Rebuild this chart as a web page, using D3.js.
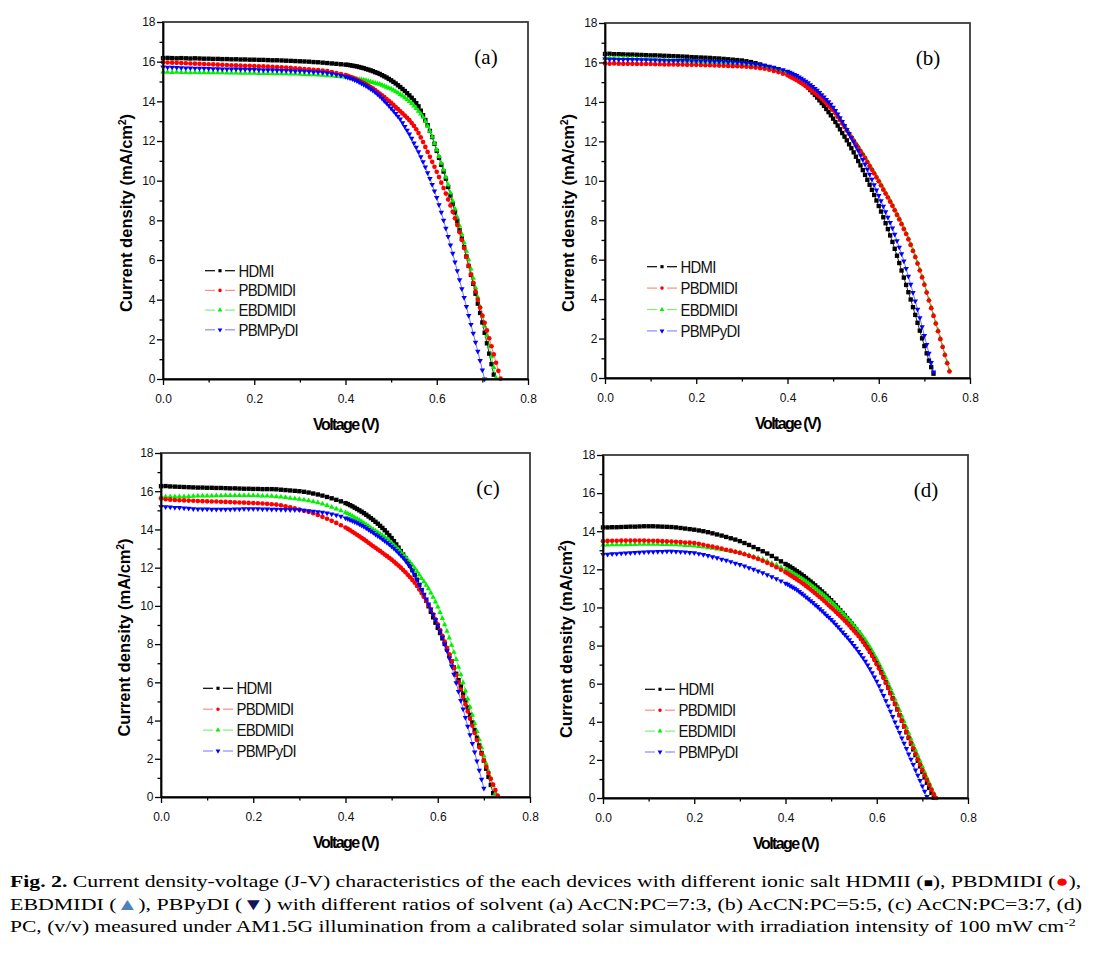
<!DOCTYPE html>
<html><head><meta charset="utf-8">
<script src="https://cdn.jsdelivr.net/npm/d3@7"></script>
<style>
body{margin:0;background:#fff;}
svg{display:block;}
</style></head><body>
<svg id="chart" width="1096" height="953"></svg>
<script>
// ---------- DATA ----------
const voltage = [0,0.01,0.02,0.03,0.04,0.05,0.06,0.07,0.08,0.09,0.1,0.11,0.12,0.13,0.14,0.15,0.16,0.17,0.18,0.19,0.2,0.21,0.22,0.23,0.24,0.25,0.26,0.27,0.28,0.29,0.3,0.31,0.32,0.33,0.34,0.35,0.36,0.37,0.38,0.39,0.4,
0.405,0.41,0.415,0.42,0.425,0.43,0.435,0.44,0.445,0.45,0.455,0.46,0.465,0.47,0.475,0.48,0.485,0.49,0.495,0.5,0.505,0.51,0.515,0.52,0.525,0.53,0.535,0.54,0.545,0.55,0.555,0.56,0.565,0.57,0.575,0.58,0.585,0.59,0.595,0.6,0.605,0.61,0.615,0.62,0.625,0.63,0.635,0.64,0.645,0.65,0.655,0.66,0.665,0.67,0.675,0.68,0.685,0.69,0.695,0.7,0.705,0.71,0.715,0.72,0.725,0.73,0.735,0.74,0.745,0.75,0.755,0.76];

const seriesNames = ["HDMI","PBDMIDI","EBDMIDI","PBMPyDI"];
const panelLabels = ["(a)","(b)","(c)","(d)"];
const xTickValues = [0,0.2,0.4,0.6,0.8];
const xMinorTicks = [0.1,0.3,0.5,0.7];
const yTickValues = [0,2,4,6,8,10,12,14,16,18];
const yMinorTicks = [1,3,5,7,9,11,13,15,17];
const xAxisTitle = "Voltage (V)";
const yAxisTitle = "Current density (mA/cm";

// (a) AcCN:PC = 7:3
const hdmiA = [16.18,16.19,16.18,16.17,16.18,16.17,16.16,16.17,16.16,16.15,
16.15,16.14,16.14,16.13,16.13,16.12,16.12,16.11,16.11,16.10,
16.10,16.09,16.09,16.08,16.07,16.07,16.06,16.05,16.04,16.03,
16.02,16.01,16.00,15.98,15.97,15.95,15.93,15.91,15.89,15.87,
15.85,
15.84,15.82,15.80,15.78,15.76,15.73,15.70,15.67,15.63,15.60,
15.56,15.52,15.47,15.43,15.38,15.32,15.26,15.20,15.13,15.06,
14.98,14.90,14.81,14.72,14.62,14.52,14.41,14.30,14.18,14.05,
13.91,13.75,13.53,13.30,13.06,12.80,12.51,12.20,11.86,11.50,
11.15,10.80,10.46,10.10,9.68,9.25,8.83,8.40,7.95,7.50,
7.08,6.65,6.18,5.70,5.25,4.80,4.30,3.80,3.33,2.85,
2.33,1.80,1.28,0.75,0.22];
const pbdmidiA = [15.97,15.96,15.95,15.94,15.93,15.92,15.91,15.90,15.89,15.88,
15.87,15.86,15.85,15.84,15.83,15.82,15.81,15.80,15.79,15.79,
15.78,15.77,15.76,15.75,15.74,15.73,15.72,15.70,15.69,15.67,
15.65,15.63,15.61,15.59,15.57,15.55,15.52,15.48,15.43,15.38,
15.32,
15.28,15.24,15.20,15.15,15.10,15.04,14.98,14.92,14.86,14.79,
14.72,14.65,14.57,14.48,14.39,14.30,14.21,14.11,14.02,13.92,
13.82,13.71,13.61,13.50,13.39,13.28,13.17,13.05,12.91,12.76,
12.59,12.40,12.18,11.95,11.70,11.45,11.20,10.95,10.70,10.45,
10.18,9.90,9.63,9.35,9.05,8.75,8.43,8.10,7.76,7.40,
7.01,6.60,6.15,5.70,5.27,4.85,4.42,4.00,3.60,3.20,
2.83,2.45,2.05,1.65,1.24,0.82,0.41,0.02];
const ebdmidiA = [15.48,15.47,15.46,15.47,15.46,15.46,15.45,15.46,15.45,15.45,
15.45,15.44,15.44,15.44,15.43,15.43,15.43,15.42,15.42,15.42,
15.42,15.41,15.41,15.41,15.40,15.40,15.39,15.39,15.38,15.38,
15.37,15.36,15.35,15.34,15.33,15.32,15.30,15.28,15.26,15.24,
15.22,
15.20,15.19,15.17,15.15,15.13,15.11,15.10,15.08,15.05,15.02,
14.98,14.95,14.92,14.89,14.86,14.82,14.77,14.72,14.67,14.62,
14.56,14.49,14.42,14.35,14.27,14.19,14.10,14.00,13.89,13.77,
13.64,13.50,13.36,13.20,12.99,12.75,12.49,12.20,11.88,11.55,
11.22,10.88,10.54,10.18,9.78,9.38,8.98,8.58,8.15,7.72,
7.30,6.88,6.45,6.02,5.55,5.08,4.60,4.12,3.65,3.17,
2.67,2.17,1.65,1.12,0.58,0.05];
const pbmpydiA = [15.73,15.72,15.71,15.70,15.69,15.68,15.68,15.67,15.66,15.66,
15.65,15.64,15.64,15.63,15.63,15.62,15.62,15.61,15.61,15.60,
15.60,15.59,15.58,15.58,15.57,15.56,15.55,15.55,15.54,15.53,
15.52,15.51,15.50,15.48,15.47,15.45,15.42,15.39,15.35,15.30,
15.25,
15.21,15.17,15.13,15.08,15.03,14.97,14.91,14.85,14.78,14.71,
14.63,14.55,14.46,14.36,14.26,14.15,14.03,13.91,13.78,13.65,
13.52,13.38,13.24,13.10,12.92,12.73,12.54,12.35,12.13,11.90,
11.68,11.45,11.20,10.95,10.68,10.40,10.10,9.80,9.48,9.15,
8.78,8.40,8.00,7.60,7.18,6.75,6.33,5.90,5.45,5.00,
4.55,4.10,3.65,3.20,2.75,2.30,1.85,1.40,0.93,0.45,
0.00];

// (b) AcCN:PC = 5:5
const hdmiB = [16.43,16.44,16.42,16.42,16.41,16.40,16.40,16.39,16.38,16.37,
16.36,16.36,16.35,16.34,16.33,16.32,16.31,16.30,16.29,16.27,
16.26,16.25,16.24,16.23,16.21,16.20,16.18,16.16,16.14,16.12,
16.10,16.06,16.02,15.96,15.90,15.83,15.76,15.69,15.62,15.55,
15.48,
15.42,15.36,15.29,15.22,15.14,15.05,14.95,14.85,14.73,14.60,
14.48,14.35,14.22,14.08,13.94,13.80,13.64,13.48,13.32,13.15,
12.98,12.80,12.61,12.42,12.24,12.05,11.85,11.65,11.44,11.22,
11.00,10.78,10.54,10.30,10.05,9.80,9.54,9.28,9.00,8.72,
8.44,8.15,7.85,7.55,7.23,6.90,6.55,6.20,5.83,5.45,
5.09,4.72,4.35,3.98,3.59,3.20,2.80,2.40,2.01,1.62,
1.25,0.88,0.55,0.22];
const pbdmidiB = [15.95,15.94,15.95,15.94,15.93,15.93,15.93,15.92,15.92,15.92,
15.92,15.91,15.91,15.90,15.90,15.90,15.89,15.89,15.88,15.88,
15.88,15.87,15.86,15.86,15.85,15.84,15.83,15.82,15.81,15.81,
15.80,15.78,15.76,15.74,15.71,15.68,15.63,15.57,15.51,15.43,
15.35,
15.29,15.23,15.17,15.10,15.03,14.96,14.88,14.80,14.72,14.63,
14.54,14.45,14.35,14.26,14.16,14.05,13.94,13.82,13.70,13.58,
13.42,13.25,13.08,12.90,12.73,12.55,12.38,12.20,12.03,11.85,
11.68,11.50,11.33,11.15,10.95,10.75,10.56,10.37,10.17,9.97,
9.76,9.55,9.35,9.15,8.94,8.73,8.50,8.27,8.04,7.80,
7.55,7.30,7.03,6.75,6.44,6.13,5.80,5.45,5.10,4.73,
4.33,3.93,3.54,3.15,2.76,2.37,1.97,1.57,1.16,0.75,
0.33];
const ebdmidiB = [16.22,16.23,16.22,16.21,16.21,16.20,16.19,16.18,16.17,16.16,
16.15,16.14,16.13,16.12,16.11,16.10,16.09,16.08,16.07,16.06,
16.05,16.04,16.03,16.02,16.01,16.00,15.99,15.97,15.96,15.94,
15.92,15.90,15.87,15.84,15.81,15.78,15.74,15.69,15.63,15.56,
15.48,
15.42,15.36,15.30,15.23,15.16,15.08,15.00,14.92,14.84,14.76,
14.67,14.58,14.48,14.38,14.27,14.16,14.04,13.91,13.77,13.63,
13.47,13.30,13.13,12.95,12.78,12.60,12.43,12.25,12.08,11.90,
11.73,11.55,11.38,11.20,11.00,10.80,10.61,10.42,10.22,10.02,
9.81,9.60,9.40,9.20,8.99,8.78,8.55,8.32,8.09,7.85,
7.60,7.35,7.08,6.80,6.49,6.18,5.85,5.50,5.15,4.78,
4.38,3.98,3.59,3.20,2.81,2.42,2.02,1.62,1.21,0.80,
0.38];
const pbmpydiB = [16.17,16.16,16.16,16.15,16.15,16.15,16.14,16.14,16.13,16.13,
16.12,16.12,16.11,16.11,16.10,16.10,16.10,16.09,16.09,16.08,
16.08,16.07,16.07,16.06,16.05,16.04,16.03,16.02,16.01,16.00,
15.98,15.96,15.94,15.91,15.88,15.84,15.80,15.75,15.69,15.62,
15.55,
15.50,15.45,15.39,15.33,15.26,15.19,15.12,15.04,14.96,14.87,
14.78,14.68,14.58,14.47,14.36,14.24,14.12,14.00,13.87,13.73,
13.56,13.38,13.19,13.00,12.80,12.60,12.39,12.18,11.97,11.75,
11.53,11.30,11.07,10.83,10.58,10.33,10.07,9.80,9.53,9.25,
8.98,8.70,8.43,8.15,7.88,7.60,7.28,6.95,6.63,6.30,
5.93,5.55,5.15,4.75,4.33,3.90,3.48,3.05,2.60,2.15,
1.70,1.25,0.78,0.30];

// (c) AcCN:PC = 3:7
const hdmiC = [16.26,16.27,16.25,16.24,16.23,16.22,16.21,16.20,16.19,16.19,
16.18,16.18,16.17,16.17,16.16,16.15,16.15,16.14,16.13,16.13,
16.12,16.12,16.11,16.11,16.11,16.10,16.08,16.06,16.04,16.02,
16.00,15.97,15.93,15.88,15.83,15.77,15.70,15.63,15.55,15.47,
15.38,
15.33,15.27,15.21,15.14,15.07,15.00,14.93,14.85,14.77,14.68,
14.59,14.50,14.40,14.30,14.19,14.08,13.96,13.83,13.69,13.55,
13.39,13.22,13.05,12.87,12.69,12.50,12.30,12.10,11.87,11.62,
11.37,11.10,10.83,10.55,10.27,9.98,9.69,9.40,9.12,8.85,
8.58,8.30,8.01,7.72,7.41,7.10,6.78,6.45,6.12,5.78,
5.42,5.05,4.68,4.30,3.90,3.50,3.10,2.70,2.30,1.90,
1.48,1.05,0.63,0.20];
const pbdmidiC = [15.62,15.58,15.56,15.54,15.53,15.52,15.51,15.50,15.49,15.48,
15.47,15.46,15.46,15.45,15.44,15.43,15.42,15.41,15.40,15.39,
15.38,15.37,15.36,15.34,15.32,15.30,15.26,15.21,15.16,15.10,
15.04,14.98,14.92,14.85,14.76,14.66,14.56,14.45,14.34,14.22,
14.10,
14.03,13.96,13.88,13.80,13.72,13.64,13.56,13.48,13.39,13.30,
13.21,13.12,13.04,12.95,12.87,12.78,12.69,12.60,12.51,12.42,
12.32,12.21,12.11,12.00,11.88,11.76,11.63,11.50,11.36,11.21,
11.04,10.86,10.67,10.47,10.26,10.04,9.81,9.56,9.30,9.03,
8.74,8.44,8.13,7.80,7.46,7.11,6.75,6.38,6.00,5.62,
5.23,4.85,4.48,4.10,3.73,3.35,2.98,2.60,2.25,1.90,
1.58,1.25,0.95,0.65,0.36,0.08];
const ebdmidiC = [15.72,15.71,15.71,15.71,15.72,15.72,15.73,15.74,15.75,15.75,
15.76,15.76,15.77,15.77,15.78,15.78,15.78,15.78,15.78,15.78,
15.78,15.77,15.76,15.75,15.74,15.72,15.70,15.67,15.64,15.61,
15.58,15.54,15.50,15.45,15.40,15.33,15.26,15.17,15.08,14.98,
14.88,
14.82,14.76,14.69,14.62,14.55,14.48,14.41,14.33,14.25,14.17,
14.08,14.00,13.92,13.84,13.76,13.68,13.59,13.50,13.40,13.30,
13.18,13.06,12.94,12.82,12.69,12.56,12.42,12.28,12.13,11.98,
11.80,11.62,11.44,11.27,11.09,10.90,10.68,10.45,10.21,9.95,
9.66,9.35,9.02,8.68,8.32,7.95,7.58,7.20,6.80,6.40,
5.98,5.55,5.13,4.70,4.28,3.85,3.43,3.00,2.58,2.15,
1.75,1.35,0.98,0.60,0.20];
const pbmpydiC = [15.20,15.18,15.17,15.15,15.14,15.12,15.10,15.08,15.07,15.06,
15.06,15.05,15.05,15.05,15.05,15.05,15.06,15.07,15.08,15.08,
15.08,15.08,15.07,15.06,15.05,15.05,15.04,15.04,15.03,15.03,
15.02,15.00,14.97,14.95,14.92,14.89,14.85,14.80,14.75,14.68,
14.60,
14.55,14.50,14.45,14.40,14.34,14.28,14.22,14.15,14.07,13.99,
13.91,13.83,13.75,13.67,13.59,13.50,13.41,13.31,13.22,13.12,
13.01,12.89,12.77,12.65,12.51,12.37,12.21,12.05,11.84,11.62,
11.36,11.10,10.85,10.60,10.35,10.10,9.83,9.55,9.27,8.98,
8.67,8.35,8.00,7.65,7.26,6.85,6.42,5.98,5.52,5.05,
4.60,4.15,3.70,3.25,2.80,2.35,1.88,1.40,0.93,0.45];

// (d) PC
const hdmiD = [14.20,14.20,14.21,14.21,14.22,14.23,14.24,14.24,14.25,14.26,
14.26,14.26,14.25,14.24,14.23,14.22,14.20,14.17,14.14,14.11,
14.08,14.04,14.00,13.95,13.89,13.83,13.77,13.70,13.63,13.56,
13.48,13.38,13.28,13.17,13.06,12.95,12.83,12.70,12.56,12.42,
12.28,
12.21,12.14,12.06,11.98,11.90,11.82,11.73,11.64,11.55,11.45,
11.36,11.26,11.16,11.05,10.95,10.84,10.73,10.61,10.50,10.38,
10.25,10.12,9.99,9.85,9.71,9.58,9.44,9.30,9.15,9.00,
8.84,8.68,8.51,8.33,8.15,7.96,7.76,7.55,7.33,7.10,
6.86,6.61,6.35,6.08,5.80,5.52,5.23,4.94,4.65,4.35,
4.05,3.75,3.45,3.15,2.85,2.55,2.25,1.95,1.66,1.37,
1.08,0.80,0.53,0.27,0.02];
const pbdmidiD = [13.48,13.49,13.50,13.50,13.51,13.51,13.51,13.51,13.51,13.51,
13.50,13.50,13.49,13.48,13.47,13.46,13.45,13.43,13.41,13.40,
13.38,13.34,13.29,13.24,13.19,13.14,13.09,13.03,12.98,12.92,
12.86,12.79,12.71,12.63,12.54,12.45,12.34,12.23,12.11,11.98,
11.85,
11.78,11.70,11.63,11.55,11.47,11.39,11.31,11.22,11.13,11.04,
10.94,10.85,10.75,10.65,10.55,10.45,10.34,10.23,10.11,10.00,
9.89,9.78,9.66,9.55,9.43,9.30,9.18,9.05,8.91,8.78,
8.64,8.50,8.35,8.19,8.02,7.84,7.65,7.45,7.24,7.02,
6.79,6.55,6.30,6.04,5.77,5.49,5.21,4.93,4.64,4.35,
4.06,3.77,3.48,3.19,2.90,2.61,2.32,2.03,1.75,1.47,
1.20,0.94,0.68,0.43,0.19,0.00];
const ebdmidiD = [13.28,13.28,13.29,13.29,13.30,13.30,13.31,13.31,13.32,13.32,
13.32,13.32,13.32,13.31,13.31,13.30,13.29,13.28,13.26,13.25,
13.23,13.20,13.17,13.14,13.11,13.07,13.03,12.99,12.95,12.91,
12.87,12.81,12.74,12.67,12.60,12.52,12.43,12.33,12.23,12.12,
12.00,
11.94,11.88,11.82,11.75,11.68,11.60,11.53,11.45,11.37,11.28,
11.19,11.10,11.01,10.91,10.82,10.72,10.62,10.51,10.41,10.30,
10.18,10.07,9.95,9.83,9.70,9.58,9.45,9.32,9.18,9.04,
8.90,8.76,8.61,8.45,8.28,8.10,7.91,7.71,7.50,7.28,
7.05,6.81,6.56,6.30,6.03,5.75,5.47,5.18,4.89,4.60,
4.30,4.00,3.70,3.40,3.10,2.80,2.51,2.22,1.93,1.64,
1.35,1.07,0.79,0.52,0.25,0.00];
const pbmpydiD = [12.78,12.79,12.81,12.82,12.84,12.85,12.86,12.88,12.89,12.91,
12.92,12.92,12.93,12.93,12.94,12.94,12.93,12.92,12.90,12.88,
12.86,12.82,12.77,12.72,12.66,12.60,12.53,12.47,12.40,12.32,
12.25,12.17,12.08,12.00,11.91,11.82,11.71,11.61,11.50,11.39,
11.27,
11.21,11.14,11.07,11.00,10.92,10.83,10.74,10.65,10.55,10.45,
10.35,10.25,10.14,10.04,9.93,9.82,9.71,9.59,9.48,9.36,
9.24,9.11,8.98,8.85,8.71,8.58,8.44,8.30,8.15,8.00,
7.85,7.69,7.52,7.35,7.17,6.98,6.78,6.57,6.35,6.12,
5.88,5.63,5.37,5.10,4.83,4.55,4.27,3.99,3.71,3.43,
3.15,2.87,2.59,2.31,2.03,1.75,1.47,1.19,0.91,0.63,
0.35,0.07];

// caption text (lines of [text, style] parts)
const captionLine1 = [["Fig. 2.","b"],[" Current density-voltage (J-V) characteristics of the each devices with different ionic salt HDMII (",""],["\u25A0","k"],["), PBDMIDI (",""],["\u25CF","r"],["),",""]];
const captionLine2 = [["EBDMIDI (",""],["\u25B2","lb"],["), PBPyDI (",""],["\u25BC","nb"],[") with different ratios of solvent (a) AcCN:PC=7:3, (b) AcCN:PC=5:5, (c) AcCN:PC=3:7, (d)",""]];
const captionLine3 = [["PC, (v/v) measured under AM1.5G illumination from a calibrated solar simulator with irradiation intensity of 100 mW cm",""],["-2","sup"]];

// ---------- LAYOUT / STYLE ----------
const panelData = [
  [hdmiA, pbdmidiA, ebdmidiA, pbmpydiA],
  [hdmiB, pbdmidiB, ebdmidiB, pbmpydiB],
  [hdmiC, pbdmidiC, ebdmidiC, pbmpydiC],
  [hdmiD, pbdmidiD, ebdmidiD, pbmpydiD]
];
const layout = [
  {x0:163, x1:528, y0:22,  y1:379, legY:270.7, legGap:19.7},
  {x0:605, x1:970, y0:23,  y1:378, legY:266.7, legGap:21.4},
  {x0:161, x1:530, y0:453, y1:797, legY:688.3, legGap:20.9},
  {x0:603, x1:968, y0:455, y1:798, legY:689.3, legGap:20.9}
];
const styles = [
  {color:"#000000", line:"rgba(0,0,0,0.8)",     legLine:"#000000", symbol:d3.symbolSquare,   size:19, rot:false},
  {color:"#ff0000", line:"rgba(255,0,0,0.55)",  legLine:"#ff8a8a", symbol:d3.symbolCircle,   size:17, rot:false},
  {color:"#00f000", line:"rgba(0,220,0,0.55)",  legLine:"#7cf07c", symbol:d3.symbolTriangle, size:13, rot:false},
  {color:"#0000ff", line:"rgba(0,0,255,0.55)",  legLine:"#8a8aff", symbol:d3.symbolTriangle, size:13, rot:true}
];
const drawOrder = [0,2,1,3];
const SANS = "'Liberation Sans', Arial, Helvetica, sans-serif";
const SERIF = "'Liberation Serif', 'Times New Roman', Times, serif";

const svg = d3.select("#chart");
svg.append("rect").attr("width",1096).attr("height",953).attr("fill","#fff");

layout.forEach((L, pi) => {
  const x = d3.scaleLinear().domain([0, 0.8]).range([L.x0, L.x1]);
  const y = d3.scaleLinear().domain([0, 18]).range([L.y1, L.y0]);
  const g = svg.append("g");

  // series
  drawOrder.forEach(si => {
    const J = panelData[pi][si];
    const pts = J.map((j, i) => [voltage[i], j]).filter(d => d[0] !== undefined);
    const st = styles[si];
    g.append("path").datum(pts)
      .attr("d", d3.line().x(d => x(d[0])).y(d => y(d[1])))
      .attr("fill", "none").attr("stroke", st.line).attr("stroke-width", 1);
    const sym = d3.symbol(st.symbol, st.size)();
    g.append("g").selectAll("path").data(pts).join("path")
      .attr("d", sym)
      .attr("transform", d => `translate(${x(d[0])},${y(d[1])})${st.rot ? " rotate(180)" : ""}`)
      .attr("fill", st.color);
  });

  // frame
  g.append("rect").attr("x", L.x0).attr("y", L.y0)
    .attr("width", L.x1 - L.x0).attr("height", L.y1 - L.y0)
    .attr("fill", "none").attr("stroke", "#3a3a3a").attr("stroke-width", 1.8);

  // axes
  const styleAxis = sel => {
    sel.select(".domain").attr("stroke", "#000").attr("stroke-width", 1.8);
    sel.selectAll(".tick line").attr("stroke", "#000").attr("stroke-width", 1.3);
    sel.selectAll(".tick text").attr("fill", "#111")
      .style("font-family", SANS).style("font-size", "12px");
  };
  const gx = g.append("g").attr("transform", `translate(0,${L.y1})`)
    .call(d3.axisBottom(x).tickValues(xTickValues).tickFormat(d3.format(".1f"))
      .tickSizeInner(6).tickSizeOuter(0).tickPadding(9));
  styleAxis(gx);
  const gxm = g.append("g").attr("transform", `translate(0,${L.y1})`)
    .call(d3.axisBottom(x).tickValues(xMinorTicks).tickFormat(() => "").tickSizeInner(3.5).tickSizeOuter(0));
  gxm.select(".domain").remove();
  styleAxis(gxm);

  const gy = g.append("g").attr("transform", `translate(${L.x0},0)`)
    .call(d3.axisLeft(y).tickValues(yTickValues).tickFormat(d3.format("d"))
      .tickSizeInner(6).tickSizeOuter(0).tickPadding(1.5));
  styleAxis(gy);
  const gym = g.append("g").attr("transform", `translate(${L.x0},0)`)
    .call(d3.axisLeft(y).tickValues(yMinorTicks).tickFormat(() => "").tickSizeInner(3.5).tickSizeOuter(0));
  gym.select(".domain").remove();
  styleAxis(gym);

  // axis titles
  g.append("text")
    .attr("x", (L.x0 + L.x1) / 2).attr("y", L.y1 + 51)
    .attr("text-anchor", "middle")
    .style("font-family", SANS).style("font-weight", "bold").style("font-size", "16px")
    .style("letter-spacing", "-1.6px")
    .text(xAxisTitle);
  const yt = g.append("text")
    .attr("transform", `translate(${L.x0 - 31},${(L.y0 + L.y1) / 2 + 12.5}) rotate(-90)`)
    .attr("text-anchor", "middle")
    .style("font-family", SANS).style("font-weight", "bold").style("font-size", "16.5px");
  yt.append("tspan").text(yAxisTitle);
  yt.append("tspan").attr("dy", -6).style("font-size", "10px").text("2");
  yt.append("tspan").attr("dy", 6).text(")");

  // panel label
  g.append("text")
    .attr("x", L.x1 - 42).attr("y", L.y0 + 42)
    .attr("text-anchor", "middle")
    .style("font-family", SERIF).style("font-size", "21px")
    .text(panelLabels[pi]);

  // legend
  seriesNames.forEach((name, si) => {
    const st = styles[si];
    const cy = L.legY + si * L.legGap;
    const lx = L.x0 + 42;
    g.append("line").attr("x1", lx).attr("x2", lx + 10).attr("y1", cy).attr("y2", cy)
      .attr("stroke", st.legLine).attr("stroke-width", 1.2);
    g.append("line").attr("x1", lx + 20).attr("x2", lx + 30).attr("y1", cy).attr("y2", cy)
      .attr("stroke", st.legLine).attr("stroke-width", 1.2);
    g.append("path").attr("d", d3.symbol(st.symbol, 10)())
      .attr("transform", `translate(${lx + 15},${cy})${st.rot ? " rotate(180)" : ""}`)
      .attr("fill", st.color);
    g.append("text").attr("x", 0).attr("y", 0)
      .attr("transform", `translate(${lx + 33.5},${cy + 6}) scale(0.9,1)`)
      .style("font-family", SANS).style("font-size", "16.5px").style("letter-spacing", "-0.8px")
      .attr("fill", "#111")
      .text(name);
  });
});

// caption
const capColors = {k:"#000", r:"#ff0000", lb:"#4f81bd", nb:"#14145a"};
function captionLine(parts, baseline, right) {
  const t = svg.append("text").attr("x", 0).attr("y", 0)
    .style("font-family", SERIF).style("font-size", "17px").attr("fill", "#000");
  parts.forEach(([txt, kind]) => {
    const ts = t.append("tspan").text(txt);
    if (kind === "b") ts.style("font-weight", "bold");
    if (capColors[kind]) ts.attr("fill", capColors[kind]);
    if (kind === "k") ts.style("font-size", "12px");
    if (kind === "sup") ts.attr("dy", -6).style("font-size", "11px");
  });
  const w = t.node().getComputedTextLength();
  const s = (right - 10) / w;
  t.attr("transform", `translate(10,${baseline}) scale(${s},1)`);
}
captionLine(captionLine1, 887, 1082);
captionLine(captionLine2, 910, 1083);
captionLine(captionLine3, 932, 1077);
</script>
</body></html>
